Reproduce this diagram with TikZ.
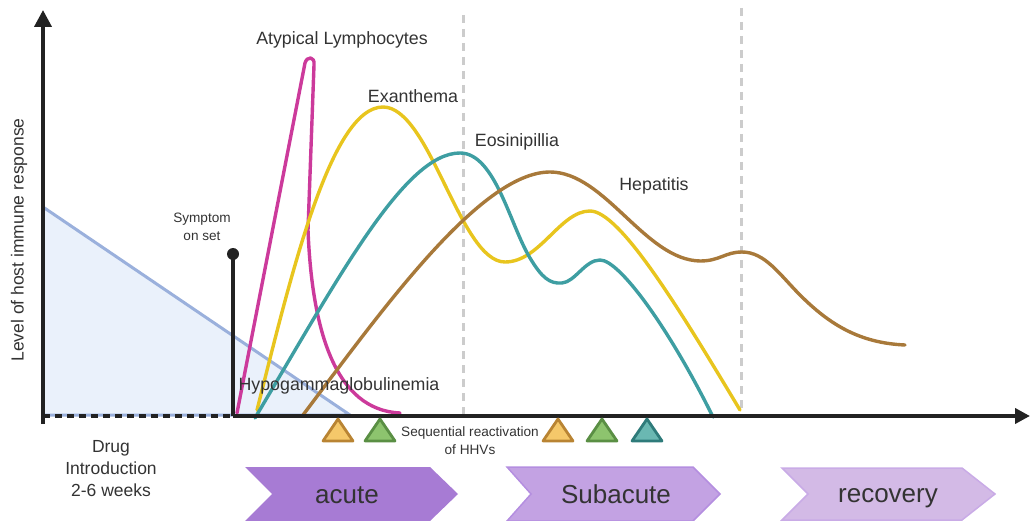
\documentclass[tikz,border=0pt]{standalone}
\usepackage{fontspec}
\setmainfont{Liberation Sans}
\usetikzlibrary{arrows.meta}
\definecolor{txt}{HTML}{333333}
\definecolor{axis}{HTML}{222222}
\definecolor{magc}{HTML}{CC3A9B}
\definecolor{yelc}{HTML}{E8C51E}
\definecolor{teac}{HTML}{3E9EA2}
\definecolor{broc}{HTML}{A8793A}
\definecolor{trif}{HTML}{EAF1FB}
\definecolor{tris}{HTML}{9AB0DC}
\definecolor{grid}{HTML}{CCCCCC}
\definecolor{orf}{HTML}{F5C86A}\definecolor{ors}{HTML}{B98433}
\definecolor{grf}{HTML}{8DC46E}\definecolor{grs}{HTML}{5A8F44}
\definecolor{tef}{HTML}{6AB8B2}\definecolor{tes}{HTML}{2E7B7A}
\definecolor{acf}{HTML}{A77BD4}
\definecolor{suf}{HTML}{C3A2E3}\definecolor{sus}{HTML}{B48EE0}
\definecolor{ref}{HTML}{D3BAE6}\definecolor{res}{HTML}{C9ABE6}
\tikzset{
  lbl/.style={text=txt,font=\fontsize{17.8}{21}\selectfont,inner sep=0pt},
  small/.style={text=txt,font=\fontsize{13.6}{18}\selectfont,inner sep=0pt,align=center},
  mid/.style={text=txt,font=\fontsize{17.5}{22}\selectfont,inner sep=0pt,align=center},
  phase/.style={text=txt,font=\fontsize{26}{30}\selectfont,inner sep=0pt,anchor=base},
  curve/.style={line width=3.4pt,line cap=round,line join=round},
  vtri/.style={line width=2.8pt,line join=round},
  ax/.style={line width=3.8pt,draw=axis},
}
\begin{document}
\begin{tikzpicture}[x=1pt,y=-1pt]
\useasboundingbox (0,0) rectangle (1030,521);
% blue triangle
\fill[trif] (43,207) -- (350,415) -- (43,415) -- cycle;
\draw[tris,line width=3pt] (43,207) -- (350,415) -- (43,415);
% dashed grey verticals
\draw[grid,line width=3pt,dash pattern=on 8pt off 6pt] (463,15) -- (463,415);
\draw[grid,line width=3pt,dash pattern=on 8pt off 6pt] (741,8) -- (741,415);
% curves
\draw[curve,magc] (237,413) -- (305,63) .. controls (307,56) and (315,56) .. (314,65) -- (308,230) .. controls (312,330) and (335,410) .. (400,413);
\draw[curve,yelc] (257,410) .. controls (290,280) and (330,107) .. (383,107)
  .. controls (430,107) and (460,262) .. (505,262)
  .. controls (540,262) and (560,211) .. (590,211)
  .. controls (620,211) and (680,310) .. (740,410);
\draw[curve,teac] (255,418) .. controls (340,275) and (405,153) .. (460,153)
  .. controls (495,153) and (510,225) .. (530,258)
  .. controls (542,278) and (550,284) .. (562,283)
  .. controls (575,282) and (585,260) .. (600,260)
  .. controls (620,260) and (670,330) .. (713,417);
\draw[curve,broc] (303,415) .. controls (380,313) and (480,172) .. (550,172)
  .. controls (605,172) and (645,260) .. (700,261)
  .. controls (720,261) and (725,252) .. (742,252)
  .. controls (765,252) and (780,275) .. (800,295)
  .. controls (830,325) and (860,343) .. (905,345);
% axes
\draw[ax,-{Triangle[length=17pt,width=17pt]}] (43,424) -- (43,10);
\draw[ax,dash pattern=on 7pt off 5pt] (43,416) -- (233,416);
\draw[ax,-{Triangle[length=15pt,width=15pt]}] (233,416) -- (1030,416);
% symptom onset
\coordinate (onsetbase) at (233,416);
\node[circle,fill=axis,minimum size=12pt,inner sep=0pt] (onset) at (233,254) {};
\draw[ax,line width=3.2pt] (onsetbase) -- (onset.center);
\node[small] (symp) at (202,227) {Symptom\\on set};
% labels
\node[lbl] (atyp) at (342,40) {Atypical Lymphocytes};
\node[lbl] (exan) at (413,96) {Exanthema};
\node[lbl] (eosi) at (517,142) {Eosinipillia};
\node[lbl] (hepa) at (654,186) {Hepatitis};
\node[lbl] (hypo) at (339,386) {Hypogammaglobulinemia};
\node[mid,rotate=90] (ylab) at (19,240) {Level of host immune response};
\node[mid] (drug) at (111,469) {Drug\\Introduction\\2-6 weeks};
% HHV triangles
\foreach \cx/\f/\s in {338/orf/ors,380/grf/grs,558/orf/ors,602/grf/grs,647/tef/tes}{
  \draw[vtri,fill=\f,draw=\s] (\cx-15,441) -- (\cx,419) -- (\cx+15,441) -- cycle;
}
\node[small] (seq) at (470,441) {Sequential reactivation\\of HHVs};
% phases
\fill[acf] (245,467) -- (430,467) -- (458,494) -- (430,521) -- (245,521) -- (272,494) -- cycle;
\node[phase] (acute) at (347,503) {acute};
\draw[fill=suf,draw=sus,line width=1.5pt] (507,467) -- (693,467) -- (720,494) -- (693,521) -- (507,521) -- (531,494) -- cycle;
\node[phase] (subacute) at (616,503) {Subacute};
\draw[fill=ref,draw=res,line width=1.5pt] (782,468) -- (962,468) -- (995,494) -- (962,520) -- (782,520) -- (808,494) -- cycle;
\node[phase] (recovery) at (888,502) {recovery};
\end{tikzpicture}
\end{document}
